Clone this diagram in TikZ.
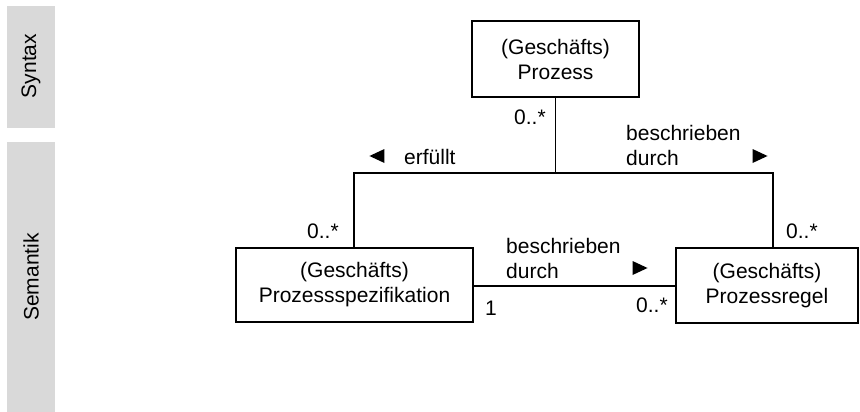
\documentclass[tikz,border=0pt]{standalone}
\usepackage{fontspec}
\setmainfont{Liberation Sans}
\usetikzlibrary{shapes.geometric}
\begin{document}
\begin{tikzpicture}[x=1pt,y=-1pt,
  every node/.style={font=\fontsize{21}{25}\selectfont},
  classbox/.style={draw,line width=1.1pt,rectangle,align=center,inner sep=0pt},
  band/.style={fill=black!15,draw=none,inner sep=0pt},
  lbl/.style={inner sep=0pt,anchor=west},
  conn/.style={line width=1.1pt},
  tri/.style={isosceles triangle,isosceles triangle stretches,fill=black,draw=none,
    inner sep=0pt,minimum width=14pt,minimum height=15pt}]
\useasboundingbox (0,0) rectangle (860,412);
% side bands
\node[band,minimum width=48pt,minimum height=122pt] (syn) at (31,67) {};
\node[rotate=90] (syntxt) at (31,66) {Syntax};
\node[band,minimum width=48pt,minimum height=270pt] (sem) at (31,277) {};
\node[rotate=90] (semtxt) at (31,277) {Semantik};
% classes
\node[classbox,minimum width=167pt,minimum height=76pt] (proz) at (555.5,59) {(Geschäfts)\\Prozess};
\node[classbox,minimum width=237pt,minimum height=74pt] (spez) at (354.5,285) {(Geschäfts)\\Prozessspezifikation};
\node[classbox,minimum width=182pt,minimum height=75pt] (regel) at (767,285.5) {(Geschäfts)\\Prozessregel};
% associations
\coordinate (fork) at (proz.south |- 0,173);
\draw[conn] (proz.south) -- (fork);
\draw[conn] (spez.north -| 354,0) |- (fork) -| (regel.north -| 773,0);
\draw[conn] (spez.east |- 0,286) -- (regel.west |- 0,286);
% labels
\node[lbl] (m1) at (514,117) {0..*};
\node[tri,shape border rotate=180] (t1) at (380,156) {};
\node[lbl] (l1) at (404,157) {erfüllt};
\node[lbl,align=left] (l2) at (626,145) {beschrieben\\durch};
\node[tri] (t2) at (757,156) {};
\node[lbl] (m2) at (307,231) {0..*};
\node[lbl] (m3) at (786,231) {0..*};
\node[lbl,align=left] (l3) at (506,258) {beschrieben\\durch};
\node[tri] (t3) at (637,268) {};
\node[lbl] (m4) at (485,308) {1};
\node[lbl] (m5) at (636,305) {0..*};
\end{tikzpicture}
\end{document}
